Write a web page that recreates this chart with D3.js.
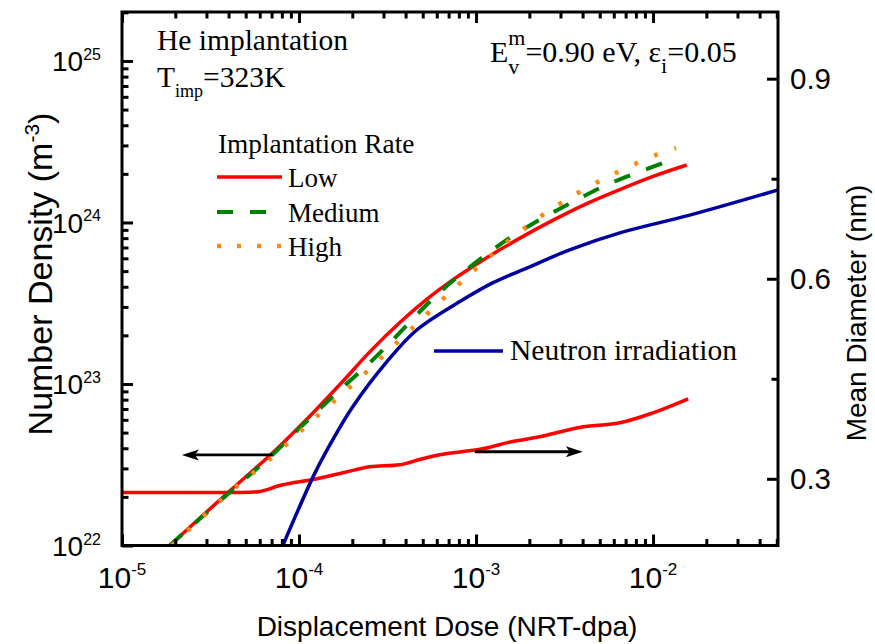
<!DOCTYPE html>
<html>
<head>
<meta charset="utf-8">
<script src="https://cdn.jsdelivr.net/npm/d3@7"></script>
<style>
  html, body { margin: 0; padding: 0; background: #fff; }
  svg { display: block; }
</style>
</head>
<body>
<script>
// ---- data: displacement dose (NRT-dpa) vs. number density (m^-3) ----
const doseLow   = [1.86e-5, 4.07e-5, 7.10e-5, 1.26e-4, 1.77e-4, 2.51e-4, 3.71e-4, 5.26e-4, 7.38e-4, 1.15e-3, 1.77e-3, 2.71e-3, 4.22e-3, 6.49e-3, 1.0e-2, 1.55e-2];
const densLow   = [1.0e22, 2.18e22, 3.75e22, 7.01e22, 1.04e23, 1.58e23, 2.40e23, 3.34e23, 4.41e23, 6.05e23, 8.00e23, 1.03e24, 1.31e24, 1.60e24, 1.93e24, 2.27e24];

const doseMedium = [1.86e-5, 4.07e-5, 7.10e-5, 1.05e-4, 1.63e-4, 2.61e-4, 3.38e-4, 6.00e-4, 9.57e-4, 1.49e-3, 2.29e-3, 3.52e-3, 5.47e-3, 8.40e-3, 1.32e-2];
const densMedium = [1.0e22, 2.14e22, 3.66e22, 5.57e22, 8.79e22, 1.41e23, 1.87e23, 3.56e23, 5.46e23, 7.80e23, 1.04e24, 1.34e24, 1.71e24, 2.06e24, 2.48e24];

const doseHigh = [1.91e-5, 4.07e-5, 7.29e-5, 1.23e-4, 2.09e-4, 3.52e-4, 7.69e-4, 1.30e-3, 2.18e-3, 3.67e-3, 6.18e-3, 1.04e-2, 1.35e-2];
const densHigh = [1.0e22, 2.14e22, 3.63e22, 6.15e22, 1.03e23, 1.77e23, 3.99e23, 6.66e23, 1.04e24, 1.50e24, 2.03e24, 2.62e24, 2.89e24];

const doseNeutron = [8.1e-5, 1.20e-4, 1.44e-4, 1.99e-4, 3.13e-4, 4.62e-4, 8.41e-4, 1.24e-3, 2.01e-3, 3.38e-3, 6.49e-3, 1.61e-2, 5.08e-2];
const densNeutron = [1.0e22, 2.66e22, 3.91e22, 7.11e22, 1.37e23, 2.16e23, 3.32e23, 4.23e23, 5.31e23, 6.77e23, 8.62e23, 1.11e24, 1.59e24];

// mean cluster diameter (nm), low implantation rate, right axis
const doseDiam = [1e-5, 5.26e-5, 6.01e-5, 8.09e-5, 1.20e-4, 1.77e-4, 2.51e-4, 3.71e-4, 4.81e-4, 6.24e-4, 1.09e-3, 1.61e-3, 2.29e-3, 3.85e-3, 6.49e-3, 1.0e-2, 1.58e-2];
const diamLow  = [0.2795, 0.280, 0.281, 0.291, 0.299, 0.309, 0.318, 0.321, 0.329, 0.336, 0.345, 0.356, 0.363, 0.377, 0.384, 0.399, 0.420];

// ---- ticks ----
const xMajor = [1e-5, 1e-4, 1e-3, 1e-2];
const xMajorExp = ['-5', '-4', '-3', '-2'];
const yLeftMajor = [1e22, 1e23, 1e24, 1e25];
const yLeftExp = ['22', '23', '24', '25'];
const yRightMajor = [0.3, 0.6, 0.9];
const yRightLabels = ['0.3', '0.6', '0.9'];
const yRightMinor = [0.45, 0.75];

// arrows pointing to the axis each curve family belongs to
const arrowDensity  = { from: [7.1e-5, 3.64e22], to: [2.18e-5, 3.64e22] };
const arrowDiameter = { from: [9.84e-4, 0.3406], to: [4.01e-3, 0.3406] };

const W = 875, H = 644;
const L = 122, R = 778, T = 12, B = 545.5;
const SANS = '"Liberation Sans", Arial, sans-serif';
const SERIF = '"Liberation Serif", "Times New Roman", serif';

const svg = d3.select('body').append('svg').attr('width', W).attr('height', H);

const x  = d3.scaleLog().domain([1e-5, 0.0508]).range([L, R]);
const yL = d3.scaleLog().domain([1e22, 2.01e25]).range([B, T]);
const yR = d3.scaleLinear().domain([0.2, 1.0]).range([B, T]);

svg.append('defs').append('clipPath').attr('id', 'plot-clip')
  .append('rect').attr('x', L).attr('y', T).attr('width', R - L).attr('height', B - T);

// ---- curves ----
const plot = svg.append('g').attr('clip-path', 'url(#plot-clip)');
const zip = (a, b) => a.map((v, i) => [v, b[i]]);
const smooth = d3.curveCatmullRom.alpha(0.5);

const lineL = d3.line().x(d => x(d[0])).y(d => yL(d[1])).curve(smooth);
const lineR = d3.line().x(d => x(d[0])).y(d => yR(d[1])).curve(smooth);

const RED = '#ff0000', GREEN = '#008000', ORANGE = '#ff8a12', BLUE = '#0000a0';

plot.append('path').attr('d', lineR(zip(doseDiam, diamLow)))
  .attr('fill', 'none').attr('stroke', RED).attr('stroke-width', 3.5);
plot.append('path').attr('d', lineL(zip(doseNeutron, densNeutron)))
  .attr('fill', 'none').attr('stroke', BLUE).attr('stroke-width', 3.5);
plot.append('path').attr('d', lineL(zip(doseLow, densLow)))
  .attr('fill', 'none').attr('stroke', RED).attr('stroke-width', 3.5);
plot.append('path').attr('d', lineL(zip(doseMedium, densMedium)))
  .attr('fill', 'none').attr('stroke', GREEN).attr('stroke-width', 4)
  .attr('stroke-dasharray', '17,17');
plot.append('path').attr('d', lineL(zip(doseHigh, densHigh)))
  .attr('fill', 'none').attr('stroke', ORANGE).attr('stroke-width', 4.5)
  .attr('stroke-dasharray', '4,17.5');

// ---- arrows ----
function arrow(a, ys) {
  const x1 = x(a.from[0]), y1 = ys(a.from[1]);
  const x2 = x(a.to[0]),   y2 = ys(a.to[1]);
  const dir = Math.sign(x2 - x1);
  svg.append('line').attr('x1', x1).attr('y1', y1).attr('x2', x2 - dir * 10).attr('y2', y2)
    .attr('stroke', '#000').attr('stroke-width', 2.8);
  svg.append('path')
    .attr('d', `M${x2},${y2} L${x2 - dir * 17},${y2 - 5.5} L${x2 - dir * 13},${y2} L${x2 - dir * 17},${y2 + 5.5} Z`)
    .attr('fill', '#000');
}
arrow(arrowDensity, yL);
arrow(arrowDiameter, yR);

// ---- axes (ticks point inward) ----
function styleAxis(g) {
  g.select('.domain').remove();
  g.selectAll('line').attr('stroke', '#000').attr('stroke-width', 3);
  g.selectAll('text').remove();
}
const xMinor = x.ticks().filter(v => !xMajor.some(m => Math.abs(m - v) / m < 1e-6));
const yMinor = yL.ticks().filter(v => !yLeftMajor.some(m => Math.abs(m - v) / m < 1e-6));

svg.append('g').attr('transform', `translate(0,${B})`)
  .call(d3.axisBottom(x).tickValues(xMajor).tickSize(-11)).call(styleAxis);
svg.append('g').attr('transform', `translate(0,${B})`)
  .call(d3.axisBottom(x).tickValues(xMinor).tickSize(-6.5)).call(styleAxis);
svg.append('g').attr('transform', `translate(0,${T})`)
  .call(d3.axisTop(x).tickValues(xMajor).tickSize(-11)).call(styleAxis);
svg.append('g').attr('transform', `translate(0,${T})`)
  .call(d3.axisTop(x).tickValues(xMinor).tickSize(-6.5)).call(styleAxis);
svg.append('g').attr('transform', `translate(${L},0)`)
  .call(d3.axisLeft(yL).tickValues(yLeftMajor).tickSize(-11)).call(styleAxis);
svg.append('g').attr('transform', `translate(${L},0)`)
  .call(d3.axisLeft(yL).tickValues(yMinor).tickSize(-6.5)).call(styleAxis);
svg.append('g').attr('transform', `translate(${R},0)`)
  .call(d3.axisRight(yR).tickValues(yRightMajor).tickSize(-11)).call(styleAxis);
svg.append('g').attr('transform', `translate(${R},0)`)
  .call(d3.axisRight(yR).tickValues(yRightMinor).tickSize(-6.5)).call(styleAxis);

// frame
svg.append('rect').attr('x', L).attr('y', T).attr('width', R - L).attr('height', B - T)
  .attr('fill', 'none').attr('stroke', '#000').attr('stroke-width', 3);

// ---- tick labels ----
xMajor.forEach((v, i) => {
  const t = svg.append('text').attr('x', x(v)).attr('y', B + 42)
    .attr('text-anchor', 'middle').attr('font-family', SANS).attr('font-size', 30);
  t.append('tspan').text('10');
  t.append('tspan').attr('dy', -13).attr('font-size', 17).text(xMajorExp[i]);
});
yLeftMajor.forEach((v, i) => {
  const t = svg.append('text').attr('x', L - 21).attr('y', yL(v) + 10.5)
    .attr('text-anchor', 'end').attr('font-family', SANS).attr('font-size', 28);
  t.append('tspan').text('10');
  t.append('tspan').attr('dy', -11.5).attr('font-size', 16).text(yLeftExp[i]);
});
yRightMajor.forEach((v, i) => {
  svg.append('text').attr('x', R + 12).attr('y', yR(v) + 10)
    .attr('font-family', SANS).attr('font-size', 29.5).text(yRightLabels[i]);
});

// ---- axis titles ----
svg.append('text').attr('x', 447).attr('y', 636).attr('text-anchor', 'middle')
  .attr('font-family', SANS).attr('font-size', 28).text('Displacement Dose (NRT-dpa)');

const yt = svg.append('text').attr('transform', 'translate(52,274) rotate(-90)')
  .attr('text-anchor', 'middle').attr('font-family', SANS).attr('font-size', 34);
yt.append('tspan').text('Number Density (m');
yt.append('tspan').attr('dy', -13).attr('font-size', 21).text('-3');
yt.append('tspan').attr('dy', 13).text(')');

svg.append('text').attr('transform', 'translate(866,313) rotate(-90)')
  .attr('text-anchor', 'middle').attr('font-family', SANS).attr('font-size', 28)
  .text('Mean Diameter (nm)');

// ---- in-plot annotations ----
function richText(x0, y0, runs) {
  let cx = x0;
  runs.forEach(r => {
    const parts = r.stack || [r];
    let adv = 0;
    parts.forEach(p => {
      const t = svg.append('text').attr('x', cx).attr('y', y0 + (p.dy || 0))
        .attr('font-family', SERIF).attr('font-size', p.size).text(p.t);
      adv = Math.max(adv, t.node().getComputedTextLength());
    });
    cx += adv;
  });
}

richText(157, 50, [{ t: 'He implantation', size: 29.5 }]);
richText(157, 87, [{ t: 'T', size: 29.5 }, { t: 'imp', size: 18, dy: 10 }, { t: '=323K', size: 29.5 }]);
richText(490, 62, [
  { t: 'E', size: 30 },
  { stack: [{ t: 'm', size: 22, dy: -17 }, { t: 'v', size: 22, dy: 12 }] },
  { t: '=0.90 eV, \u03b5', size: 30 },
  { t: 'i', size: 22, dy: 11 },
  { t: '=0.05', size: 30 }
]);

// legend
const legendItems = [
  { label: 'Low',    color: RED,    width: 3.5, dash: null,      y: 177 },
  { label: 'Medium', color: GREEN,  width: 4,   dash: '16,17',   y: 212 },
  { label: 'High',   color: ORANGE, width: 4.5, dash: '4,16',    y: 246 }
];
svg.append('text').attr('x', 218).attr('y', 153).attr('font-family', SERIF)
  .attr('font-size', 27.3).text('Implantation Rate');
legendItems.forEach(it => {
  const ln = svg.append('line').attr('x1', 217).attr('x2', 282).attr('y1', it.y).attr('y2', it.y)
    .attr('stroke', it.color).attr('stroke-width', it.width);
  if (it.dash) ln.attr('stroke-dasharray', it.dash);
  svg.append('text').attr('x', 288).attr('y', it.y + 10).attr('font-family', SERIF)
    .attr('font-size', 27).text(it.label);
});

svg.append('line').attr('x1', 434).attr('x2', 503).attr('y1', 351).attr('y2', 351)
  .attr('stroke', BLUE).attr('stroke-width', 3.5);
svg.append('text').attr('x', 510).attr('y', 360).attr('font-family', SERIF)
  .attr('font-size', 29.5).text('Neutron irradiation');
</script>
</body>
</html>
